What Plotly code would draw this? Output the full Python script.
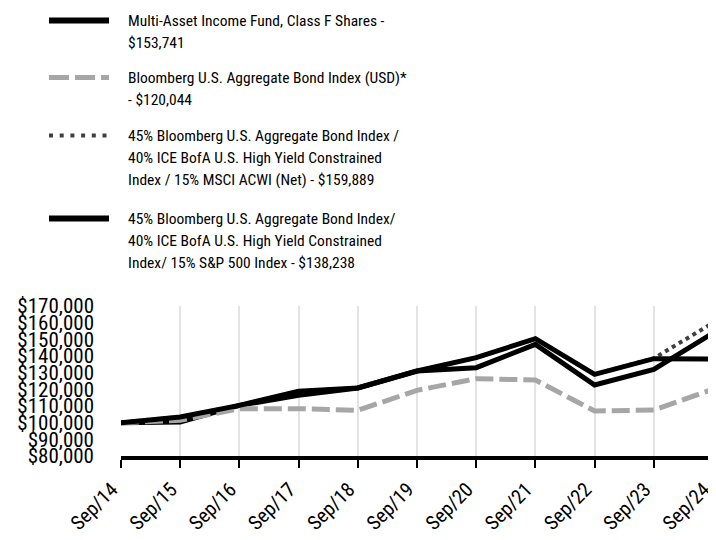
import plotly.graph_objects as go

# ---------------- data ----------------
dates = ["Sep/14", "Sep/15", "Sep/16", "Sep/17", "Sep/18", "Sep/19",
         "Sep/20", "Sep/21", "Sep/22", "Sep/23", "Sep/24"]

fund = [100000, 100400, 110400, 116400, 120800, 131000, 133000, 147000, 122600, 132000, 153741]
agg = [100000, 101400, 108400, 108400, 107400, 119400, 126400, 125600, 107000, 107600, 120044]
msci_blend = [100000, 103400, 110400, 118800, 120800, 131000, 139000, 150400, 129000, 138600, 159889]
sp_blend = [100000, 103400, 110400, 118800, 120800, 131000, 139000, 150400, 129000, 138400, 138238]

names = [
    "Multi-Asset Income Fund, Class F Shares -<br>$153,741",
    "Bloomberg U.S. Aggregate Bond Index (USD)*<br>- $120,044",
    "45% Bloomberg U.S. Aggregate Bond Index /<br>40% ICE BofA U.S. High Yield Constrained<br>Index / 15% MSCI ACWI (Net) - $159,889",
    "45% Bloomberg U.S. Aggregate Bond Index/<br>40% ICE BofA U.S. High Yield Constrained<br>Index/ 15% S&P 500 Index - $138,238",
]

y_ticks = list(range(80000, 170001, 10000))
y_labels = ["$80,000", "$90,000", "$100,000", "$110,000", "$120,000", "$130,000",
            "$140,000", "$150,000", "$160,000", "$170,000"]

# ---------------- styles ----------------
FONT = "Roboto Condensed, DejaVu Sans Condensed, sans-serif"
styles = [
    dict(color="#000000", width=5, dash="solid"),
    dict(color="#a6a6a6", width=5, dash="18px,6px"),
    dict(color="#404040", width=4, dash="4px,4px"),
    dict(color="#000000", width=5, dash="solid"),
]
legend_styles = [
    dict(color="#000000", width=6, dash="solid"),
    dict(color="#a6a6a6", width=5, dash="20px,6px"),
    dict(color="#404040", width=4, dash="4px,6.7px"),
    dict(color="#000000", width=6, dash="solid"),
]

series = [fund, agg, msci_blend, sp_blend]

fig = go.Figure()
for s, nm, st in zip(series, names, styles):
    fig.add_trace(go.Scatter(x=dates, y=s, mode="lines", name=nm,
                             line=st, showlegend=False))

# page has an 8px body margin: work in screen pixels, then shift
OFF = 8
W, H = 716, 540
L, R, T, B = 121 - OFF, W - (713 - OFF), 306 - OFF, H - (456 - OFF)
pw, ph = W - L - R, H - T - B


def px_x(x):
    return (x - OFF - L) / pw


def px_y(y):
    return (H - B - (y - OFF)) / ph


# custom legend (screen pixel positions)
legend_rows = [20.5, 77.5, 135.5, 218.5]
line_h = 22.2
shapes = []
annotations = []
for i, nm in enumerate(names):
    yc = legend_rows[i]
    shapes.append(dict(type="line", xref="paper", yref="paper",
                       x0=px_x(49), x1=px_x(109), y0=px_y(yc), y1=px_y(yc),
                       line=legend_styles[i]))
    for j, part in enumerate(nm.split("<br>")):
        annotations.append(dict(text=part, xref="paper", yref="paper",
                                x=px_x(126), y=px_y(yc + j * line_h),
                                xanchor="left", yanchor="middle",
                                showarrow=False,
                                font=dict(family=FONT, size=15.5, color="#000000")))

fig.update_layout(
    width=W, height=H,
    margin=dict(l=L, r=R, t=T, b=B, pad=0, autoexpand=False),
    paper_bgcolor="white", plot_bgcolor="white",
    shapes=shapes, annotations=annotations,
    showlegend=False,
    font=dict(family=FONT, color="#000000"),
)

fig.update_xaxes(
    type="category", range=[0, 10], automargin=False,
    showgrid=True, gridcolor="#e3e3e3", gridwidth=1.5,
    showline=True, linecolor="#000000", linewidth=4,
    ticks="outside", ticklen=8, tickwidth=2, tickcolor="#000000",
    tickangle=-45, ticklabelstandoff=2, ticklabelshift=-9,
    tickfont=dict(family=FONT, size=20, color="#000000"),
    zeroline=False,
)
fig.update_yaxes(
    range=[80000, 170000], tickvals=y_ticks, ticktext=y_labels, automargin=False,
    showgrid=False, zeroline=False, showline=False,
    ticks="", ticklabelstandoff=26,
    tickfont=dict(family=FONT, size=21, color="#000000"),
)

fig.write_html("out.html")
